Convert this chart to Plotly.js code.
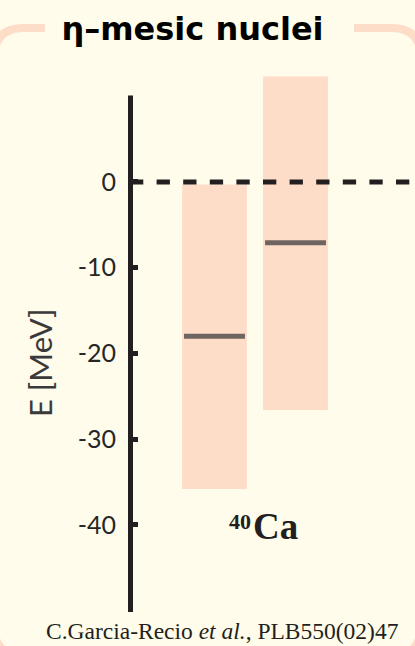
<!DOCTYPE html>
<html>
<head>
<meta charset="utf-8">
<script src="https://cdn.plot.ly/plotly-3.0.1.min.js"></script>
<style>
  html, body { margin: 0; padding: 0; background: #FFFCEB; }
  #chart { width: 415px; height: 646px; }
</style>
</head>
<body>
<div id="chart"></div>
<script>
// Two calculated eta-nucleus states for 40Ca: binding energy and the band
// spanned by the level width (top / bottom of each band, MeV).
const solutions = [0, 1];
const bindingEnergy = [-18.0, -7.1];
const bandTop = [-0.3, 12.3];
const bandBottom = [-35.8, -26.6];
const yTicks = [0, -10, -20, -30, -40];
const yTickLabels = ['0', '-10', '-20', '-30', '-40'];

const W = 415, H = 646;
const M = { l: 130, r: 0, t: 70, b: 34 };
// pixel -> paper helpers for decorations
const px = v => (v - M.l) / (W - M.l - M.r);
const py = v => (H - M.b - v) / (H - M.t - M.b);

const PINK = '#FDDCC8';
const INK = '#231F20';
const GEO = 'Lato, "Open Sans", sans-serif';

const bands = {
  type: 'bar',
  x: solutions,
  base: bandBottom,
  y: bandTop.map((t, i) => t - bandBottom[i]),
  width: 0.8,
  marker: { color: PINK, line: { width: 0 } },
  hoverinfo: 'skip'
};

// line-ew markers are drawn 1.4x their nominal size
const levels = {
  type: 'scatter',
  mode: 'markers',
  x: solutions,
  y: bindingEnergy,
  marker: {
    symbol: 'line-ew',
    size: 43.5,
    color: '#6E6460',
    line: { color: '#6E6460', width: 5 }
  },
  hoverinfo: 'skip'
};

// rounded frame around the panel, open at the top for the heading
const L = -6, R = 421, T = 28, B = 656, r = 30;
const framePath =
  `M ${px(45)},${py(T)} L ${px(L + r)},${py(T)} Q ${px(L)},${py(T)} ${px(L)},${py(T + r)} ` +
  `L ${px(L)},${py(B - r)} Q ${px(L)},${py(B)} ${px(L + r)},${py(B)} ` +
  `L ${px(R - r)},${py(B)} Q ${px(R)},${py(B)} ${px(R)},${py(B - r)} ` +
  `L ${px(R)},${py(T + r)} Q ${px(R)},${py(T)} ${px(R - r)},${py(T)} L ${px(354)},${py(T)}`;

const layout = {
  width: W,
  height: H,
  margin: M,
  paper_bgcolor: '#FFFCEB',
  plot_bgcolor: 'rgba(0,0,0,0)',
  showlegend: false,
  title: {
    text: '<b>\u03B7\u2013mesic nuclei</b>',
    font: { family: 'DejaVu Sans', size: 32, color: '#000000' },
    xref: 'container', yref: 'container',
    x: 192.5 / W, xanchor: 'center',
    y: 1 - 29 / H, yanchor: 'middle'
  },
  xaxis: {
    range: [-1.043, 2.475],
    visible: false,
    fixedrange: true
  },
  yaxis: {
    range: [-50.15, 13.06],
    tickmode: 'array',
    tickvals: yTicks,
    ticktext: yTickLabels,
    ticks: 'inside',
    ticklen: 8,
    tickwidth: 5,
    tickcolor: INK,
    ticklabelstandoff: 13,
    tickfont: { family: GEO, size: 25, color: '#262626' },
    showgrid: false,
    zeroline: false,
    showline: false,
    fixedrange: true
  },
  shapes: [
    {
      type: 'path', xref: 'paper', yref: 'paper', path: framePath,
      line: { color: PINK, width: 8 }, fillcolor: 'rgba(0,0,0,0)', layer: 'below'
    },
    {
      type: 'line', xref: 'paper', yref: 'y', x0: 0, x1: 1, y0: 0, y1: 0,
      line: { color: INK, width: 5, dash: '13.3px,13.3px' }, layer: 'above'
    },
    {
      type: 'line', xref: 'paper', yref: 'y', x0: px(130.5), x1: px(130.5), y0: -50.15, y1: 10.1,
      line: { color: INK, width: 5 }, layer: 'above'
    }
  ],
  annotations: [
    {
      text: 'E [MeV]', xref: 'paper', yref: 'paper',
      x: px(40), xanchor: 'center', y: py(363), yanchor: 'middle',
      textangle: -90, showarrow: false, borderpad: 0,
      font: { family: GEO, size: 31, color: '#3A3A3A' }
    },
    {
      text: '<b>40</b>', xref: 'paper', yref: 'paper',
      x: px(228), xanchor: 'left', y: py(521.5), yanchor: 'middle',
      showarrow: false, borderpad: 0,
      font: { family: '"Liberation Serif", serif', size: 22, color: INK }
    },
    {
      text: '<b>Ca</b>', xref: 'paper', yref: 'paper',
      x: px(252), xanchor: 'left', y: py(526.5), yanchor: 'middle',
      showarrow: false, borderpad: 0,
      font: { family: '"Liberation Serif", serif', size: 37, color: INK }
    },
    {
      text: 'C.Garcia-Recio <i>et al.</i>, PLB550(02)47', xref: 'paper', yref: 'paper',
      x: px(45), xanchor: 'left', y: py(631), yanchor: 'middle',
      showarrow: false, borderpad: 0,
      font: { family: '"Liberation Serif", serif', size: 23.5, color: INK }
    }
  ]
};

Plotly.newPlot('chart', [bands, levels], layout, { displayModeBar: false, staticPlot: true });
</script>
</body>
</html>
